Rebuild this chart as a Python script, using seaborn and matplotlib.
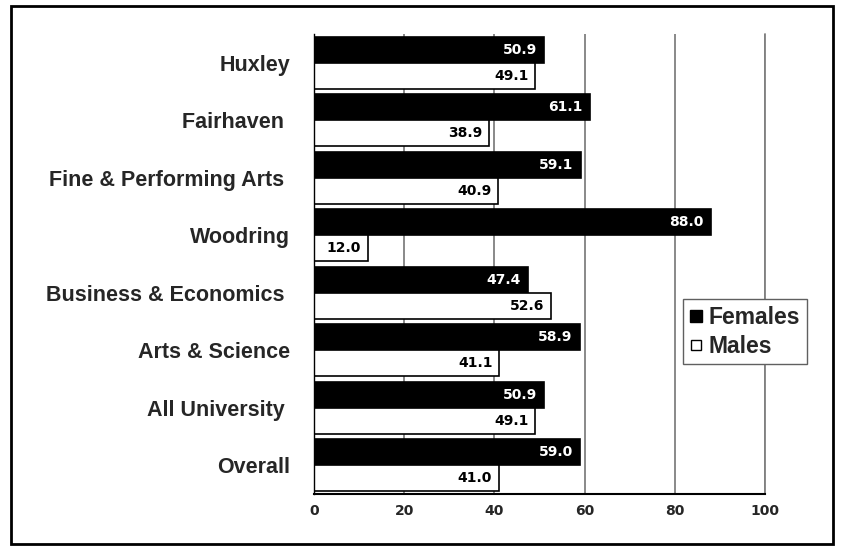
import matplotlib
matplotlib.use("Agg")
import matplotlib.pyplot as plt
import seaborn as sns
import pandas as pd
from matplotlib.patches import Rectangle
from matplotlib.lines import Line2D

# data
colleges = ["Huxley", "Fairhaven", "Fine & Performing Arts", "Woodring",
            "Business & Economics", "Arts & Science", "All University", "Overall"]
# labels that carry a trailing blank in the original
tick_labels = ["Huxley", "Fairhaven ", "Fine & Performing Arts ", "Woodring",
               "Business & Economics ", "Arts & Science", "All University ", "Overall"]
females = [50.9, 61.1, 59.1, 88.0, 47.4, 58.9, 50.9, 59.0]
males = [49.1, 38.9, 40.9, 12.0, 52.6, 41.1, 49.1, 41.0]
x_ticks = [0, 20, 40, 60, 80, 100]

sns.set_style("white")
plt.rcParams["font.family"] = ["Liberation Sans", "DejaVu Sans"]

df = pd.DataFrame({
    "college": colleges * 2,
    "pct": females + males,
    "sex": ["Females"] * len(colleges) + ["Males"] * len(colleges),
})

fig = plt.figure(figsize=(8.41, 5.52), dpi=100)
ax = fig.add_axes([0.3734, 0.1051, 0.5363, 0.8333])

sns.barplot(data=df, y="college", x="pct", hue="sex", order=colleges,
            hue_order=["Females", "Males"], palette=["black", "white"],
            edgecolor="black", linewidth=1.2, width=0.9, orient="h",
            ax=ax, legend=False)

# value labels inside bar ends
for cont, col in zip(ax.containers, ["white", "black"]):
    labels = ["%.1f" % b.get_width() for b in cont]
    ax.bar_label(cont, labels=labels, label_type="edge", padding=-5,
                 color=col, fontsize=10, fontweight="bold", family="DejaVu Sans")
for t in ax.texts:
    t.set_horizontalalignment("right")

ax.set_xlim(0, 100)
ax.set_ylim(len(colleges) - 0.5, -0.5)
ax.set_xticks(x_ticks)
ax.set_xticklabels([str(v) for v in x_ticks], fontsize=10, fontweight="bold",
                   family="DejaVu Sans")
ax.set_yticks(range(len(colleges)))
ax.set_yticklabels(tick_labels, fontsize=15.5, fontweight="bold")
ax.tick_params(axis="y", length=0, pad=17)
ax.set_yticks([i - 0.5 for i in range(len(colleges) + 1)], minor=True)
ax.tick_params(axis="y", which="minor", length=3, direction="out", color="black", width=1)
ax.tick_params(axis="x", length=4.5, direction="inout", color="black", width=1, pad=5)
ax.set_xlabel("")
ax.set_ylabel("")

ax.xaxis.grid(True, color="#808080", linewidth=1.3)
ax.axvline(100, color="#808080", linewidth=1.3, clip_on=False, zorder=0)
ax.set_axisbelow(True)
for s in ["top", "right"]:
    ax.spines[s].set_visible(False)
for s in ["left", "bottom"]:
    ax.spines[s].set_color("black")
ax.spines["left"].set_linewidth(1)
ax.spines["bottom"].set_linewidth(1.5)

handles = [
    Line2D([], [], marker="s", linestyle="", markerfacecolor="black",
           markeredgecolor="black", markersize=8.5),
    Line2D([], [], marker="s", linestyle="", markerfacecolor="white",
           markeredgecolor="black", markersize=7.5),
]
leg = ax.legend(handles, ["Females", "Males"], loc="upper left",
                bbox_to_anchor=(0.818, 0.424), frameon=True, fancybox=False,
                prop={"weight": "bold", "size": 16.5}, handlelength=0.5,
                handletextpad=0.3, borderpad=0.3, labelspacing=0.25,
                borderaxespad=0)
leg.get_frame().set_edgecolor("#606060")
leg.get_frame().set_linewidth(1)
leg.get_frame().set_alpha(1)

# outer chart border
fig.patches.append(Rectangle((0.013, 0.015), 0.978, 0.975, transform=fig.transFigure,
                             fill=False, edgecolor="black", linewidth=2))

fig.savefig("out.png", dpi=100)
